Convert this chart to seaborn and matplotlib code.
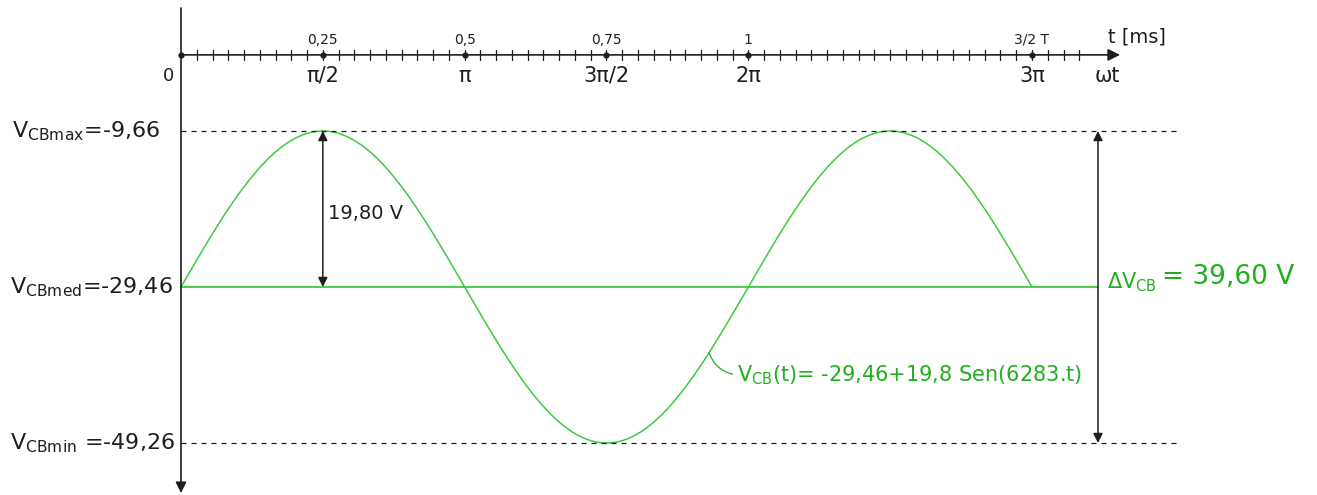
import numpy as np
import pandas as pd
import matplotlib
matplotlib.use("Agg")
import matplotlib.pyplot as plt
import seaborn as sns

# ---- data ----
V_max = -9.66
V_med = -29.46
V_min = -49.26
V_amp = 19.80
delta_V = 39.60
omega = 6283
period_end = 3 * np.pi  # 3/2 T

key_wt = [np.pi / 2, np.pi, 3 * np.pi / 2, 2 * np.pi, 3 * np.pi]
t_labels = ["0,25", "0,5", "0,75", "1", "3/2 T"]
wt_labels = ["π/2", "π", "3π/2", "2π", "3π"]

# curve of the stated equation
wt = np.linspace(0, period_end, 600)
df = pd.DataFrame({"wt": wt, "v": V_med + V_amp * np.sin(wt)})

# ---- style ----
sns.set_theme(style="white")
plt.rcParams["font.family"] = ["DejaVu Sans"]
plt.rcParams["mathtext.fontset"] = "dejavusans"

DARK = "#1e1e1e"
GREEN_LINE = "#3ccc3c"
GREEN_TXT = "#1faf1f"

W, H = 1317, 495
fig = plt.figure(figsize=(W / 100, H / 100), dpi=100)
ax = fig.add_axes([0, 0, 1, 1])

sx = (1032 - 181) / (3 * np.pi)
sy = (287 - 131) / V_amp
ax.set_xlim(-181 / sx, (W - 181) / sx)
ax.set_ylim(V_med - (H - 287) / sy, V_med + 287 / sy)
ax.axis("off")

def px(x):
    return (x - 181) / sx

def py(y):
    return V_med + (287 - y) / sy

# sine curve
sns.lineplot(data=df, x="wt", y="v", ax=ax, color=GREEN_LINE, lw=1.1, legend=False)

# medium line and dashed limits
ax.plot([0, px(1098)], [V_med, V_med], color=GREEN_LINE, lw=1.3)
for v in (V_max, V_min):
    ax.plot([0, px(1180)], [v, v], color=DARK, lw=0.9, ls=(0, (4, 4)))

# vertical axis
ax.annotate("", xy=(0, py(493)), xytext=(0, py(8)),
            arrowprops=dict(arrowstyle="-|>", color=DARK, lw=1.2,
                            mutation_scale=16, shrinkA=0, shrinkB=0))
# horizontal time axis
ax.annotate("", xy=(px(1120), 0), xytext=(0, 0),
            arrowprops=dict(arrowstyle="-|>", color=DARK, lw=1.2,
                            mutation_scale=18, shrinkA=0, shrinkB=0))
step = np.pi / 18
tick_len = 5 / sy
for k in range(1, 58):
    ax.plot([k * step, k * step], [-tick_len, tick_len], color=DARK, lw=0.9)
ax.scatter([0] + key_wt, [0] * (len(key_wt) + 1), s=12, color=DARK, zorder=5)

for xv, lab in zip(key_wt, t_labels):
    ax.text(xv, py(40), lab, ha="center", va="center", fontsize=10, color=DARK)
for xv, lab in zip(key_wt, wt_labels):
    ax.text(xv, py(76), lab, ha="center", va="center", fontsize=15, color=DARK)
ax.text(px(169), py(76), "0", ha="center", va="center", fontsize=13, color=DARK)
ax.text(px(1137), py(37), "t [ms]", ha="center", va="center", fontsize=14, color=DARK)
ax.text(px(1107), py(76), "ωt", ha="center", va="center", fontsize=15, color=DARK)

# left value labels
ax.text(px(160), V_max, r"V$_{\mathregular{CBmax}}$=-9,66", ha="right", va="center",
        fontsize=16, color=DARK)
ax.text(px(173), V_med, r"V$_{\mathregular{CBmed}}$=-29,46", ha="right", va="center",
        fontsize=16, color=DARK)
ax.text(px(175), V_min, r"V$_{\mathregular{CBmin}}$ =-49,26", ha="right", va="center",
        fontsize=16, color=DARK)

# amplitude arrow
ax.annotate("", xy=(np.pi / 2, V_max), xytext=(np.pi / 2, V_med),
            arrowprops=dict(arrowstyle="<|-|>", color=DARK, lw=1.1,
                            mutation_scale=14, shrinkA=0, shrinkB=0))
ax.text(px(328), py(214), "19,80 V", ha="left", va="center", fontsize=14, color=DARK)

# peak-to-peak arrow
ax.annotate("", xy=(px(1098), V_max), xytext=(px(1098), V_min),
            arrowprops=dict(arrowstyle="<|-|>", color=DARK, lw=1.1,
                            mutation_scale=14, shrinkA=0, shrinkB=0))
ax.text(px(1107), py(282), r"$\Delta$V$_{\mathregular{CB}}$",
        ha="left", va="center", fontsize=15, color=GREEN_TXT)
ax.text(px(1162), py(277), "= 39,60 V", ha="left", va="center",
        fontsize=19, color=GREEN_TXT)

# equation label with leader
x0 = px(709)
y0 = V_med + V_amp * np.sin(x0)
ax.annotate(r"V$_{\mathregular{CB}}$(t)= -29,46+19,8 Sen(6283.t)",
            xy=(x0, y0), xytext=(px(737), py(375)),
            ha="left", va="center", fontsize=15, color=GREEN_TXT,
            arrowprops=dict(arrowstyle="-", color=GREEN_TXT, lw=0.9,
                            shrinkA=1, shrinkB=0, relpos=(0, 0.5),
                            connectionstyle="arc3,rad=-0.3"))

fig.savefig("out.png", dpi=100)
